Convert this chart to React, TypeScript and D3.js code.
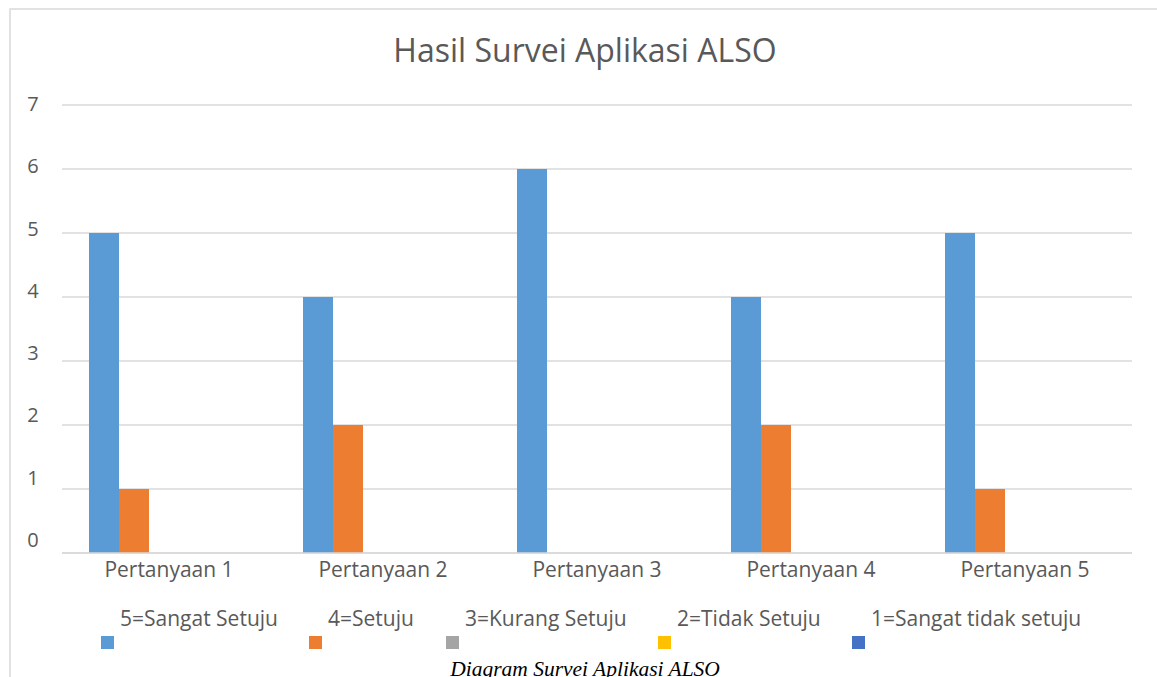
import { useRef, useEffect } from 'react';
import * as d3 from 'd3';

const categories = ['Pertanyaan 1', 'Pertanyaan 2', 'Pertanyaan 3', 'Pertanyaan 4', 'Pertanyaan 5'];
const seriesNames = [
  '5=Sangat Setuju',
  '4=Setuju',
  '3=Kurang Setuju',
  '2=Tidak Setuju',
  '1=Sangat tidak setuju',
];
const sangatSetuju = [5, 4, 6, 4, 5];
const setuju = [1, 2, 0, 2, 1];
const kurangSetuju = [0, 0, 0, 0, 0];
const tidakSetuju = [0, 0, 0, 0, 0];
const sangatTidakSetuju = [0, 0, 0, 0, 0];
const seriesColors = ['#5B9BD5', '#ED7D31', '#A5A5A5', '#FFC000', '#4472C4'];
const yTicks = [0, 1, 2, 3, 4, 5, 6, 7];
const legendSquareX = [101, 309, 446, 658, 852];

const W = 1157;
const H = 677;
const FONT = '"Open Sans", sans-serif';
const TEXT = '#595959';

const App = () => {
  const svgRef = useRef<SVGSVGElement>(null);

  useEffect(() => {
    if (!svgRef.current) return;
    const svg = d3.select(svgRef.current);
    svg.selectAll('*').remove();

    const values = [sangatSetuju, setuju, kurangSetuju, tidakSetuju, sangatTidakSetuju];

    const x0 = d3.scaleBand<string>().domain(categories).range([62, 1132]).padding(0);
    const x1 = d3
      .scaleBand<string>()
      .domain(seriesNames)
      .range([27, 27 + 5 * 30])
      .padding(0);
    const y = d3.scaleLinear().domain([0, 7]).range([553, 105]);
    // tick labels sit a bit above their gridlines in the original
    const yLabel = d3.scaleLinear().domain([0, 7]).range([540, 104]);

    // chart frame
    svg
      .append('rect')
      .attr('x', 10)
      .attr('y', 9)
      .attr('width', W + 20)
      .attr('height', H + 20)
      .attr('fill', '#fff')
      .attr('stroke', '#d9d9d9')
      .attr('stroke-width', 1.5);

    // title
    svg
      .append('text')
      .attr('x', 585)
      .attr('y', 62)
      .attr('text-anchor', 'middle')
      .attr('font-family', FONT)
      .attr('font-size', '32px')
      .attr('fill', TEXT)
      .text('Hasil Survei Aplikasi ALSO');

    // gridlines + y labels
    yTicks.forEach((t) => {
      svg
        .append('line')
        .attr('x1', 62)
        .attr('x2', 1132)
        .attr('y1', y(t))
        .attr('y2', y(t))
        .attr('stroke', '#d9d9d9')
        .attr('stroke-width', 1.5);
      svg
        .append('text')
        .attr('x', 33)
        .attr('y', yLabel(t))
        .attr('dy', '0.35em')
        .attr('text-anchor', 'middle')
        .attr('font-family', FONT)
        .attr('font-size', '20px')
        .attr('fill', TEXT)
        .text(t);
    });

    // bars
    categories.forEach((cat, i) => {
      const g = svg.append('g').attr('transform', `translate(${x0(cat)},0)`);
      seriesNames.forEach((s, j) => {
        const v = values[j][i];
        if (v <= 0) return;
        g.append('rect')
          .attr('x', x1(s)!)
          .attr('y', y(v))
          .attr('width', x1.bandwidth())
          .attr('height', y(0) - y(v))
          .attr('fill', seriesColors[j]);
      });
    });

    // redraw baseline on top
    svg
      .append('line')
      .attr('x1', 62)
      .attr('x2', 1132)
      .attr('y1', y(0))
      .attr('y2', y(0))
      .attr('stroke', '#d9d9d9')
      .attr('stroke-width', 1.5);

    // category labels
    categories.forEach((cat) => {
      svg
        .append('text')
        .attr('x', x0(cat)! + x0.bandwidth() / 2)
        .attr('y', 577)
        .attr('text-anchor', 'middle')
        .attr('font-family', FONT)
        .attr('font-size', '21px')
        .attr('fill', TEXT)
        .text(cat);
    });

    // legend (wrapped: text on one row, swatch just below-left)
    seriesNames.forEach((s, j) => {
      const lx = legendSquareX[j];
      svg
        .append('rect')
        .attr('x', lx)
        .attr('y', 636)
        .attr('width', 13)
        .attr('height', 13)
        .attr('fill', seriesColors[j]);
      svg
        .append('text')
        .attr('x', lx + 19)
        .attr('y', 626)
        .attr('font-family', FONT)
        .attr('font-size', '21px')
        .attr('fill', TEXT)
        .text(s);
    });

    // caption
    svg
      .append('text')
      .attr('x', 585)
      .attr('y', 676)
      .attr('text-anchor', 'middle')
      .attr('font-family', '"Liberation Serif", serif')
      .attr('font-style', 'italic')
      .attr('font-size', '21.5px')
      .attr('fill', '#000')
      .text('Diagram Survei Aplikasi ALSO');
  }, []);

  return (
    <svg
      ref={svgRef}
      width={W}
      height={H}
      style={{ position: 'absolute', left: 0, top: 0, background: '#fff' }}
    />
  );
};

export default App;
